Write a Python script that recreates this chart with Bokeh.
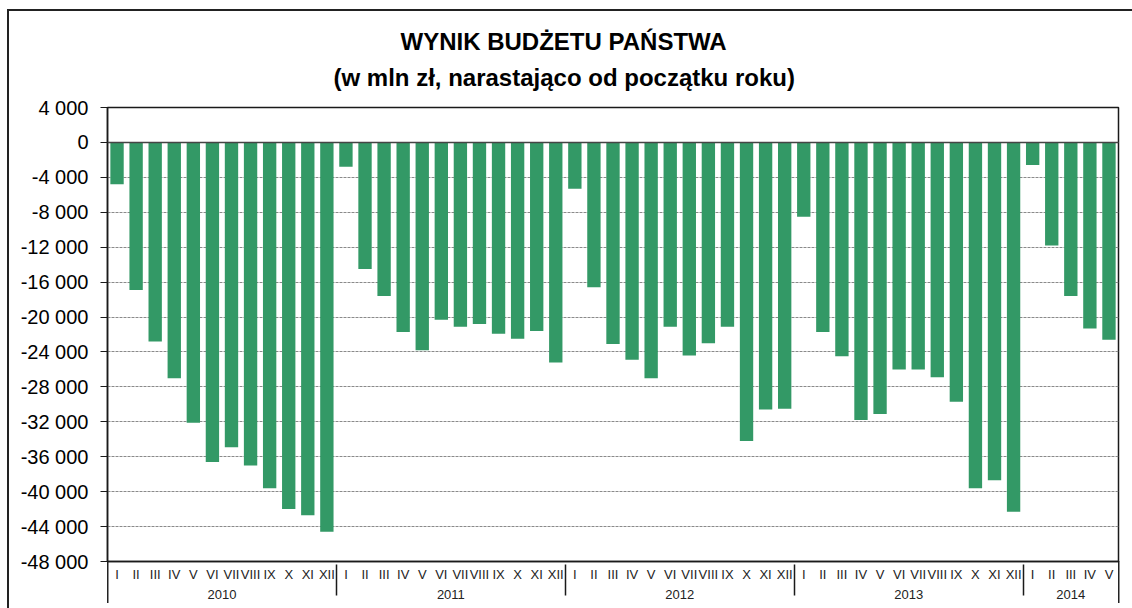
from bokeh.plotting import figure
from bokeh.models import FactorRange, Range1d, FixedTicker, Span, Title
from bokeh.embed import file_html
from bokeh.resources import INLINE

years = ["2010", "2011", "2012", "2013", "2014"]
months = ["I", "II", "III", "IV", "V", "VI", "VII", "VIII", "IX", "X", "XI", "XII"]

v2010 = [-4800, -16900, -22800, -27000, -32100, -36600, -34900, -37000, -39600, -42000, -42700, -44600]
v2011 = [-2800, -14500, -17600, -21700, -23800, -20300, -21100, -20800, -21900, -22500, -21600, -25200]
v2012 = [-5300, -16600, -23100, -24900, -27000, -21100, -24400, -23000, -21100, -34200, -30600, -30500]
v2013 = [-8500, -21700, -24500, -31800, -31100, -26000, -26000, -26900, -29700, -39600, -38700, -42300]
v2014 = [-2600, -11800, -17600, -21300, -22600]

y_ticks = list(range(-48000, 4001, 4000))
title_1 = "WYNIK BUDŻETU PAŃSTWA"
title_2 = "(w mln zł, narastająco od początku roku)"

series = [v2010, v2011, v2012, v2013, v2014]
factors, values = [], []
for yr, vals in zip(years, series):
    for m, v in zip(months, vals):
        factors.append((yr, m))
        values.append(v)

FONT = "Liberation Sans"
LINE = "#1a1a1a"
x_range = FactorRange(*factors, range_padding=0, factor_padding=0, group_padding=0, subgroup_padding=0)

p = figure(x_range=x_range, y_range=Range1d(-48000, 4000),
           frame_width=1011, frame_height=454,
           min_border_left=107, min_border_right=14, min_border_top=107, min_border_bottom=47,
           output_backend="svg", toolbar_location=None, title=None)
p.border_fill_color = None
p.background_fill_color = "white"
p.outline_line_color = LINE
p.outline_line_width = 1.5
# outer chart frame (top and left edges) and outer category separators
p.styles = {
    "background-color": "white",
    "background-image": ", ".join(["linear-gradient(#222,#222)"] * 4),
    "background-size": "100% 2px, 2px 100%, 1.5px 42px, 1.5px 42px",
    "background-position": "8px 9px, 7px 9px, 106.5px 561px, 1117.5px 561px",
    "background-repeat": "no-repeat",
}

p.vbar(x=factors, top=values, bottom=0, width=0.7, fill_color="#339966", line_color=None)

# grid
p.xgrid.grid_line_color = None
p.ygrid.ticker = FixedTicker(ticks=y_ticks)
p.ygrid.grid_line_color = "#8a8a8a"
p.ygrid.grid_line_dash = "3 1"
p.ygrid.grid_line_width = 1
p.add_layout(Span(location=0, dimension="width", line_color="#444444", line_width=1.5))

# y axis
ya = p.yaxis[0]
ya.ticker = FixedTicker(ticks=y_ticks)
ya.major_label_overrides = {t: f"{t:,}".replace(",", " ") for t in y_ticks}
ya.major_label_text_font = FONT
ya.major_label_text_font_size = "20px"
ya.major_label_text_color = "black"
ya.major_tick_out = 7
ya.major_tick_in = 0
ya.minor_tick_line_color = None
ya.major_label_standoff = 12
ya.axis_line_color = LINE
ya.axis_line_width = 1.5
ya.major_tick_line_color = LINE

# x axis
xa = p.xaxis[0]
xa.major_tick_line_color = None
xa.minor_tick_line_color = None
xa.major_tick_out = 0
xa.major_tick_in = 0
xa.axis_line_color = LINE
xa.axis_line_width = 1.5
xa.major_label_text_font = FONT
xa.major_label_text_font_size = "13px"
xa.major_label_text_color = "#222222"
xa.major_label_standoff = 5
xa.group_text_font = FONT
xa.group_text_font_size = "13px"
xa.group_text_font_style = "normal"
xa.group_text_color = "#222222"
xa.separator_line_color = LINE
xa.separator_line_width = 1.5

t2 = Title(text=title_2, align="left", offset=226, vertical_align="top", text_font=FONT,
           text_font_size="24px", text_font_style="bold", text_color="black", standoff=29)
p.add_layout(t2, "above")
t1 = Title(text=title_1, align="left", offset=293, vertical_align="middle", text_font=FONT,
           text_font_size="24px", text_font_style="bold", text_color="black", standoff=-12)
p.add_layout(t1, "above")

open("out.html", "w").write(file_html(p, INLINE))
